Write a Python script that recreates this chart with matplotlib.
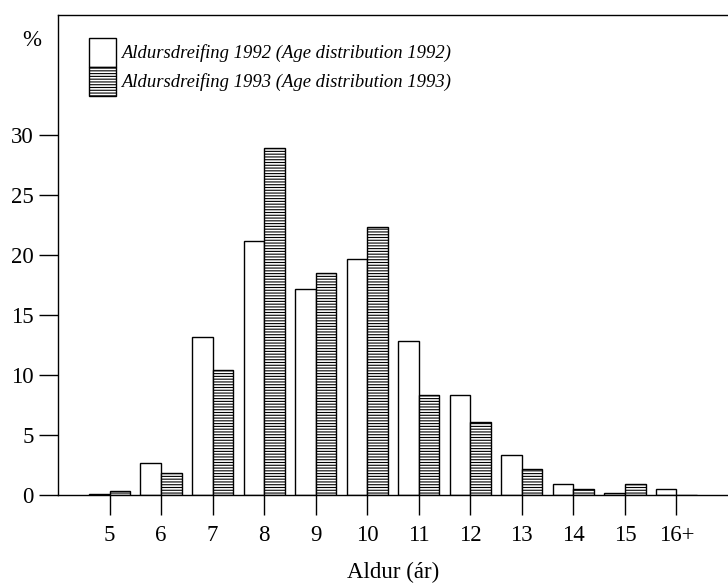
import matplotlib
matplotlib.use("Agg")
import matplotlib.pyplot as plt
import numpy as np

categories = ["5", "6", "7", "8", "9", "10", "11", "12", "13", "14", "15", "16+"]
ages = [5, 6, 7, 8, 9, 10, 11, 12, 13, 14, 15, 16]
dist_1992 = [0.1, 2.7, 13.2, 21.2, 17.2, 19.7, 12.8, 8.3, 3.3, 0.9, 0.2, 0.5]
dist_1993 = [0.3, 1.8, 10.4, 28.9, 18.5, 22.3, 8.3, 6.1, 2.2, 0.5, 0.9, 0.0]
yticks = [0, 5, 10, 15, 20, 25, 30]
label_1992 = "Aldursdreifing 1992 (Age distribution 1992)"
label_1993 = "Aldursdreifing 1993 (Age distribution 1993)"

plt.rcParams['font.family'] = ['Liberation Serif', 'DejaVu Serif']
plt.rcParams['hatch.linewidth'] = 0.8

W, H = 728, 583
fig = plt.figure(figsize=(W / 100, H / 100), dpi=100)
ax = fig.add_axes([58 / W, 1 - 495 / H, 1 - 58 / W, 480 / H])

x = np.array(ages, dtype=float)
bw = 0.4
ax.bar(x - bw / 2, dist_1992, width=bw, facecolor="white", edgecolor="black",
       linewidth=1.0, label=label_1992)
ax.bar(x + bw / 2, dist_1993, width=bw, facecolor="white", edgecolor="black",
       linewidth=1.0, hatch="------", label=label_1993)

ax.set_xlim(4.0, 17.0)
ax.set_ylim(0, 40)
ax.set_xticks(ages)
ax.set_xticklabels(categories)
ax.set_yticks(yticks)

ax.spines['right'].set_visible(False)
for s in ['left', 'top', 'bottom']:
    ax.spines[s].set_linewidth(1.0)

ax.tick_params(axis='x', direction='out', length=14.4, width=1.0, pad=7.5, labelsize=16.5)
ax.tick_params(axis='y', direction='out', length=13.5, width=1.0, pad=4, labelsize=16.5)

ax.set_xlabel("Aldur (ár)", fontsize=16.5, labelpad=11)

fig.text(32 / W, 1 - 40 / H, "%", fontsize=16.5, ha="center", va="center")

leg = ax.legend(loc="upper left", bbox_to_anchor=((89 - 58) / 670, (495 - 38) / 480),
                frameon=False, borderpad=0, borderaxespad=0, labelspacing=0,
                handlelength=1.45, handleheight=2.0, handletextpad=0.25,
                prop={'style': 'italic', 'size': 13.4})

fig.savefig("out.png", dpi=100)
